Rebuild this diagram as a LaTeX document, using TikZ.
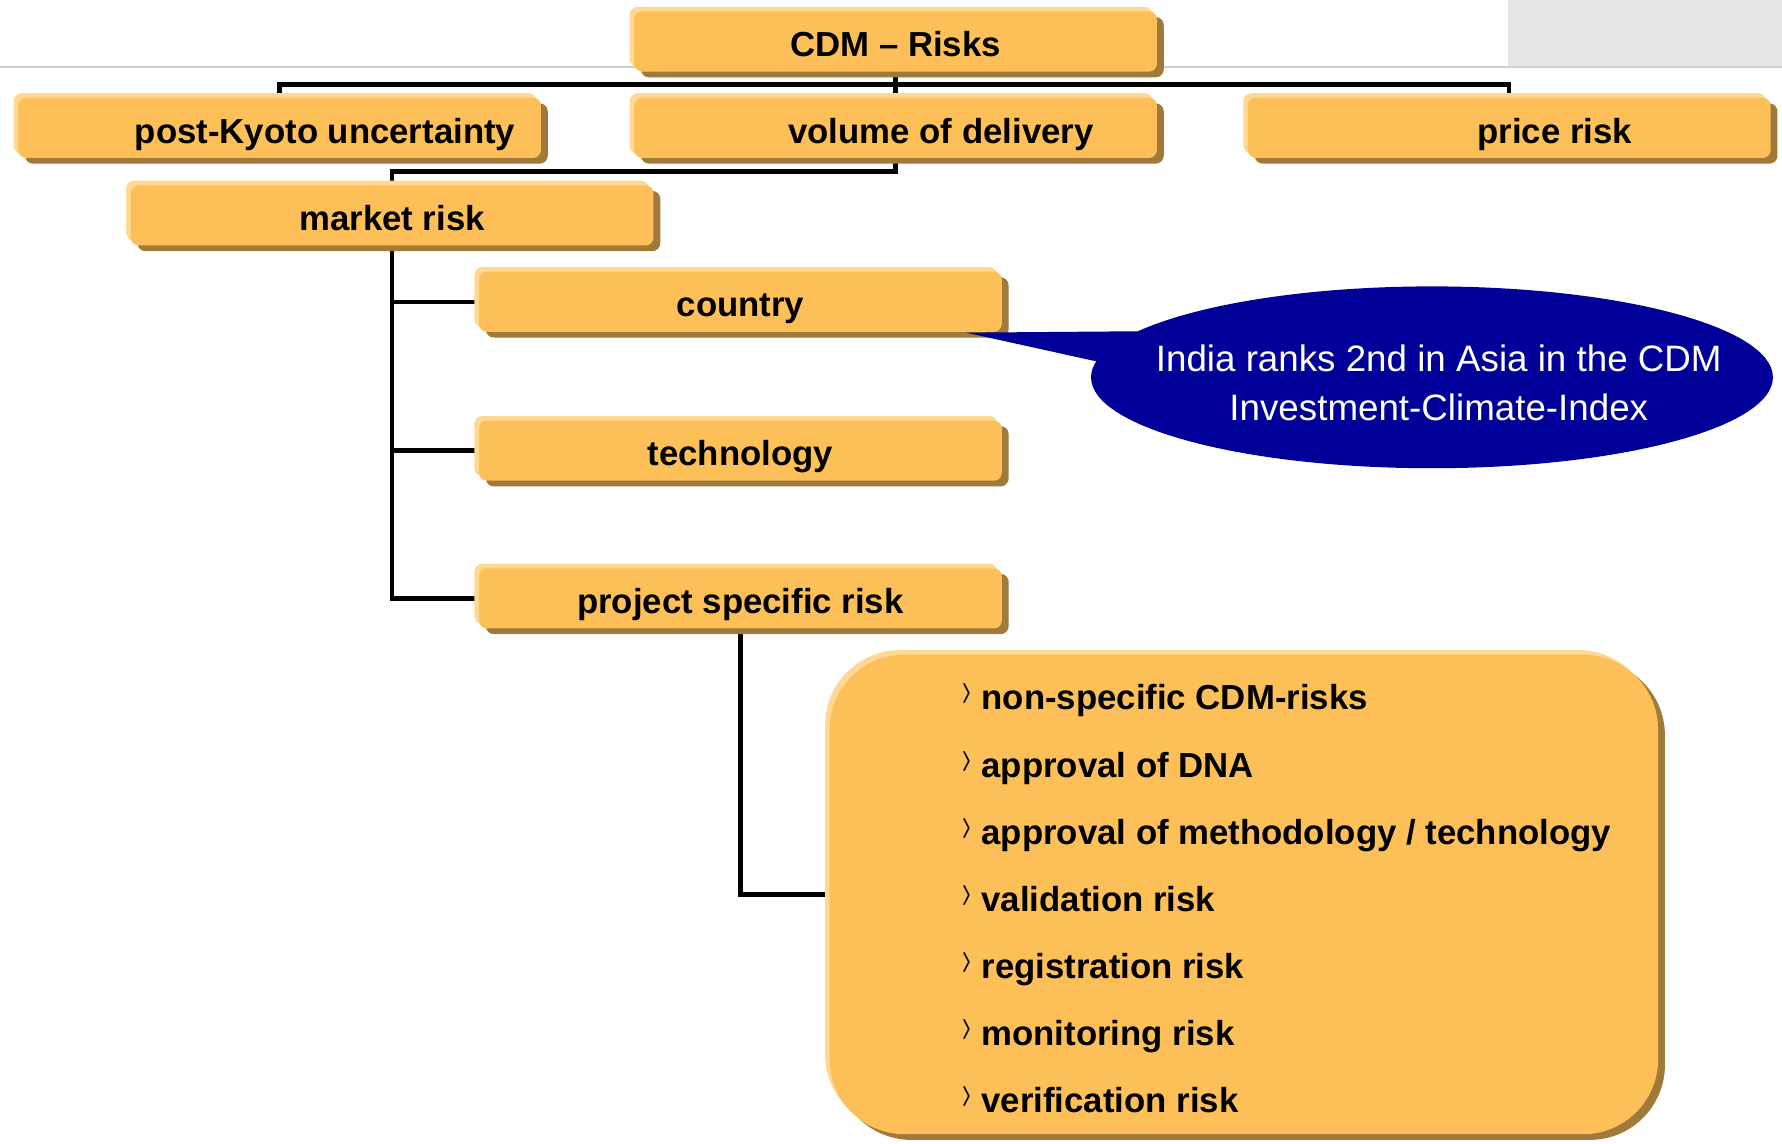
\documentclass[tikz,border=0pt]{standalone}
\usepackage{fontspec}
\setmainfont{Liberation Sans}
\usetikzlibrary{shapes.geometric,shadows,backgrounds,calc}

\definecolor{boxfill}{RGB}{253,191,87}
\definecolor{boxlight}{RGB}{255,217,148}
\definecolor{boxdark}{RGB}{160,122,58}
\definecolor{notefill}{RGB}{0,0,153}
\definecolor{pagegray}{RGB}{229,229,229}
\definecolor{ruleline}{RGB}{208,208,208}

\newcommand\riskfont{\bfseries\fontsize{8.7}{10}\selectfont}
\newcommand\riskmark{\makebox[1.8mm][l]{\raisebox{2.75pt}{\fontsize{5}{5}\selectfont\boldmath$\rangle$}}}

\tikzset{
  bevel/.style={fill=boxfill, inner sep=0pt,
    general shadow={fill=boxdark, shadow xshift=0.6mm, shadow yshift=-0.5mm},
    general shadow={fill=boxlight, shadow xshift=-0.4mm, shadow yshift=0.4mm}},
  riskbox/.style={bevel, rectangle, rounded corners=0.7mm,
    minimum width=46mm, minimum height=5.3mm, font=\riskfont,
    text height=8pt, text depth=0.4pt},
  listbox/.style={bevel, rectangle, rounded corners=6.6mm,
    minimum width=72.9mm, minimum height=42.2mm},
  listtext/.style={inner sep=0pt, align=left,
    font=\bfseries\fontsize{8.7}{16.8}\selectfont},
  notebubble/.style={ellipse, fill=notefill, inner sep=0pt,
    minimum width=60mm, minimum height=16mm},
  notetext/.style={inner sep=0pt, align=center, text=white,
    font=\fontsize{9.2}{12.2}\selectfont},
  branch/.style={line width=1.1pt, black},
}

\begin{document}
\begin{tikzpicture}[x=0.1mm, y=-0.1mm]
\useasboundingbox (0,0) rectangle (1568,1006);

% Risk tree boxes
\node[riskbox] (root) at (788,36.5) {CDM – Risks};
\node[riskbox] (kyoto) at (246,112.5) {\hspace*{8mm}post-Kyoto uncertainty};
\node[riskbox] (vol) at (788,112.5) {\hspace*{8mm}volume of delivery};
\node[riskbox] (price) at (1328,112.5) {\hspace*{8mm}price risk};
\node[riskbox] (market) at (345,189.5) {market risk};
\node[riskbox] (country) at (651.5,265.5) {country};
\node[riskbox] (technology) at (651.5,396.5) {technology};
\node[riskbox] (project) at (651.5,526.5) {project specific risk};

% Project specific sub-risks
\node[listbox] (items) at (1094.5,787) {};
\node[listtext, anchor=west] (itemlist) at (845,790.5) {%
  \riskmark non-specific CDM-risks\\
  \riskmark approval of DNA\\
  \riskmark approval of methodology / technology\\
  \riskmark validation risk\\
  \riskmark registration risk\\
  \riskmark monitoring risk\\
  \riskmark verification risk};

% Callout on the country box
\node[notebubble] (note) at (1260,332) {};
\coordinate (tip) at ([xshift=-3.2mm]country.south east);
\fill[notefill] (tip) -- ($(note.center)+(-200,-41)$) -- ($(note.center)+(-200,7)$) -- cycle;
\node[notetext] (notetxt) at (1266,337) {India ranks 2nd in Asia in the CDM\\Investment-Climate-Index};

\begin{scope}[on background layer]
  % Page frame
  \fill[pagegray] (1327,0) rectangle (1568,58);
  \draw[ruleline, line width=0.5pt] (0,59) -- (1568,59);
  % Connectors
  \draw[branch] (root.south) -- (vol.north);
  \draw[branch] (kyoto.north) |- ($(root.south)!0.5!(vol.north)$) -| (price.north);
  \draw[branch] (vol.south) |- ($(vol.south)!0.5!(market.north)$) -| (market.north);
  \foreach \leaf in {country, technology, project}
    \draw[branch] (market.south) |- (\leaf.west);
  \draw[branch] (project.south) |- (items.west);
\end{scope}
\end{tikzpicture}
\end{document}
